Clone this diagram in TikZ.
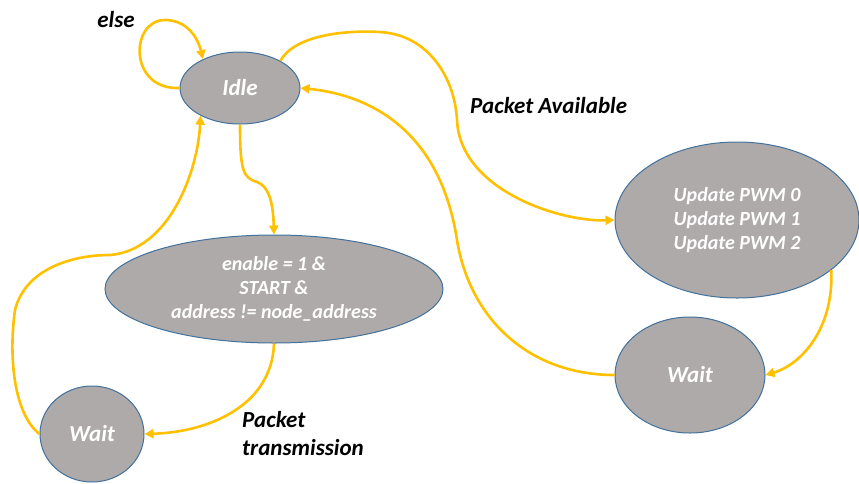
\documentclass[tikz,border=0pt]{standalone}
\usepackage{fontspec}
\setmainfont{Carlito}
\usetikzlibrary{shapes.geometric,arrows.meta}
\definecolor{stgray}{HTML}{AEAAAA}
\definecolor{stblue}{HTML}{41719C}
\definecolor{trgold}{HTML}{FFC000}

\begin{document}
\begin{tikzpicture}[x=1pt,y=-1pt,>={Triangle[length=9pt,width=9pt]},
  stnode/.style={ellipse,draw=stblue,line width=1pt,fill=stgray,inner sep=0pt,align=center,text=white,
    font=\fontsize{20}{24}\selectfont\bfseries\itshape},
  bigtext/.style={font=\fontsize{23}{27}\selectfont\bfseries\itshape},
  trans/.style={->,draw=trgold,line width=2.6pt},
  lbl/.style={align=left,inner sep=0pt,font=\fontsize{23}{28}\selectfont\bfseries\itshape}]
\useasboundingbox (0,0) rectangle (859,483);
\node[stnode,bigtext,minimum width=120pt,minimum height=72pt] (idle) at (240,88) {Idle};
\node[stnode,minimum width=338pt,minimum height=108pt] (enable) at (274,289) {enable = 1 \&\\START \&\\address != node\_address};
\node[stnode,bigtext,minimum width=104pt,minimum height=96pt] (waitl) at (92,434) {Wait};
\node[stnode,minimum width=244pt,minimum height=156pt] (upd) at (737,220) {Update PWM 0\\Update PWM 1\\Update PWM 2};
\node[stnode,bigtext,minimum width=150pt,minimum height=116pt] (waitr) at (690,375) {Wait};
\node[lbl] (elselbl) at (116,20) {else};
\node[lbl,anchor=west] (availlbl) at (470,106) {Packet Available};
\node[lbl,anchor=west] (txlbl) at (242,434) {Packet\\transmission};
\draw[trans] (idle.west) .. controls (128,90) and (130,20) .. (165,20) .. controls (185,20) and (197,35) .. (idle.142);
\draw[trans] (idle.south) .. controls (240,170) and (243,178) .. (257,182) .. controls (268,186) and (273,200) .. (enable.north);
\draw[trans] (enable.south) .. controls (272,405) and (210,432) .. (waitl.east);
\draw[trans] (waitl.west) .. controls (15,415) and (8,360) .. (15,310) .. controls (25,270) and (70,255) .. (110,255) .. controls (170,250) and (198,170) .. (idle.215);
\draw[trans] (idle.34) .. controls (295,35) and (345,30) .. (380,32) .. controls (430,35) and (455,80) .. (457,120) .. controls (460,190) and (560,222) .. (upd.west);
\draw[trans] (upd.-28) .. controls (834,330) and (800,365) .. (waitr.east);
\draw[trans] (waitr.west) .. controls (530,375) and (470,320) .. (457,240) .. controls (440,130) and (370,95) .. (idle.east);
\end{tikzpicture}
\end{document}
